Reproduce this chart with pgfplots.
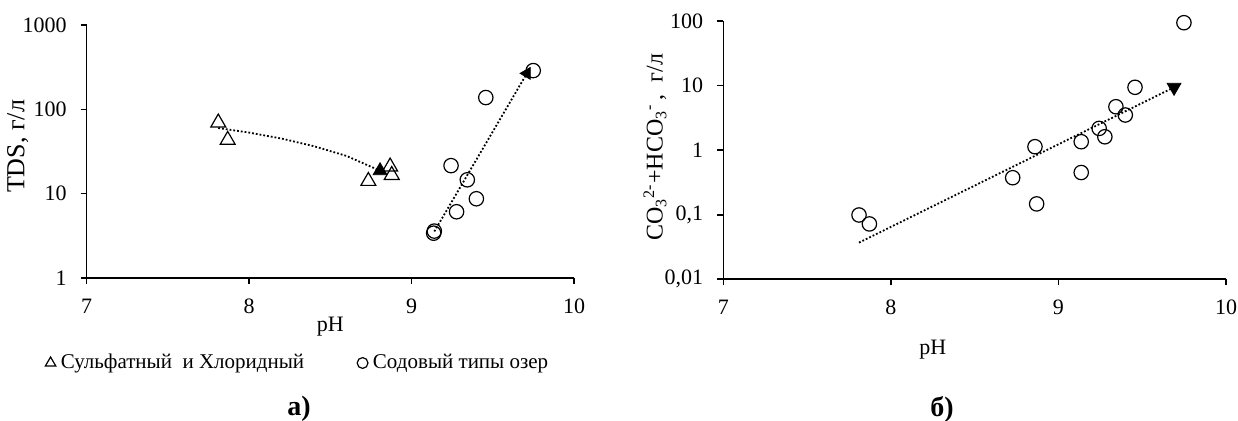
\documentclass[border=0pt]{standalone}
\usepackage{fontspec}
\setmainfont{Liberation Serif}
\usepackage{pgfplots}
\pgfplotsset{compat=1.18}
\begin{document}
\begin{tikzpicture}[font=\fontsize{11}{13}\selectfont]
\path[use as bounding box] (0,0) rectangle (619pt,210.5pt);
% ---------------- left panel ----------------
\begin{axis}[
  scale only axis,
  ymode=log,
  xmin=7, xmax=10,
  xtick={7,8,9,10},
  axis lines=left,
  axis line style={-, line width=0.8pt},
  tick style={line width=0.8pt, black},
  tick align=outside,
  major tick length=3pt,
  yminorticks=false,
  /pgf/number format/assume math mode=true,
  xticklabel style={yshift=-4pt},
  yticklabel style={xshift=-3.5pt},
  clip=false,
  at={(43.35pt,71.5pt)}, anchor=south west,
  width=243.65pt, height=126.5pt,
  ymin=1, ymax=1000,
  ytick={1,10,100,1000}, yticklabels={1,10,100,1000},
  xlabel={pH},
  xlabel style={at={(axis description cs:0.5,-0.194)}, anchor=center},
  ylabel={TDS, г/л},
  ylabel style={at={(axis description cs:-0.1416,0.52)}, anchor=center, font=\fontsize{13}{15}\selectfont},
  legend columns=2,
  legend style={at={(axis description cs:-0.0856,-0.336)}, anchor=west, draw=none, fill=none,
    inner sep=0pt, nodes={inner sep=1.5pt}, font=\fontsize{10.5}{12.5}\selectfont,
    /tikz/every odd column/.append style={column sep=1pt},
    /tikz/every even column/.append style={column sep=25pt}},
]
\addplot[only marks, mark=triangle, mark size=4.3pt, mark options={black, line width=0.6pt},
  legend image code/.code={\draw[black, line width=0.5pt, mark=triangle, mark size=3pt] plot coordinates {(0cm,0cm)};}]
  coordinates {(7.81,69.5) (7.868,43.3) (8.734,14.1) (8.868,20.9) (8.878,16.6)};
\addlegendentry{Сульфатный\ \ и Хлоридный}
\addplot[only marks, mark=o, mark size=3.6pt, mark options={black, line width=0.6pt},
  legend image code/.code={\draw[black, line width=0.6pt, mark=o, mark size=2.7pt] plot coordinates {(0cm,0cm)};}]
  coordinates {(9.136,3.4) (9.14,3.6) (9.243,21.5) (9.277,6.1) (9.343,14.6) (9.399,8.7) (9.457,138) (9.749,288)};
\addlegendentry{Содовый типы озер}
% trend lines
\addplot[black, densely dotted, line width=0.9pt, forget plot] coordinates {(7.81,60) (8.0,53) (8.2,45) (8.4,36.5) (8.6,28) (8.806,18.7)};
\addplot[black, densely dotted, line width=0.9pt, forget plot] coordinates {(9.14,3.56) (9.71,267)};
% arrow heads
\addplot[only marks, forget plot, mark=triangle*, mark size=4pt, mark options={black, fill=black}]
  coordinates {(8.806,18.7)};
\addplot[only marks, forget plot, mark=triangle*, mark size=3.4pt, mark options={black, fill=black, rotate=90}]
  coordinates {(9.71,267)};
\end{axis}
% ---------------- right panel ----------------
\begin{axis}[
  scale only axis,
  ymode=log,
  xmin=7, xmax=10,
  xtick={7,8,9,10},
  axis lines=left,
  axis line style={-, line width=0.8pt},
  tick style={line width=0.8pt, black},
  tick align=outside,
  major tick length=3pt,
  yminorticks=false,
  /pgf/number format/assume math mode=true,
  xticklabel style={yshift=-4pt},
  yticklabel style={xshift=-3.5pt},
  clip=false,
  at={(361.65pt,70.85pt)}, anchor=south west,
  width=251.35pt, height=129.15pt,
  ymin=0.01, ymax=100,
  ytick={0.01,0.1,1,10,100}, yticklabels={{0,01},{0,1},1,10,100},
  xlabel={pH},
  xlabel style={at={(axis description cs:0.417,-0.274)}, anchor=center},
  ylabel={CO\textsubscript{3}\textsuperscript{2-}+HCO\textsubscript{3}\textsuperscript{-}\,,\ \ г/л},
  ylabel style={at={(axis description cs:-0.136,0.512)}, anchor=center, font=\fontsize{12}{14}\selectfont},
]
\addplot[only marks, mark=o, mark size=3.6pt, mark options={black, line width=0.6pt}]
  coordinates {(7.81,0.099) (7.872,0.072) (8.727,0.374) (8.86,1.13) (8.87,0.147)
    (9.136,1.35) (9.136,0.45) (9.243,2.17) (9.277,1.61) (9.343,4.7) (9.399,3.5)
    (9.457,9.4) (9.749,94)};
\addplot[black, densely dotted, line width=0.9pt, forget plot] coordinates {(7.81,0.037) (9.69,9.4)};
\addplot[only marks, forget plot, mark=triangle*, mark size=4pt, mark options={black, fill=black, rotate=180}]
  coordinates {(9.69,9.4)};
\end{axis}
\node[font=\fontsize{14}{16}\selectfont\bfseries] at (149.5pt,6pt) {а)};
\node[font=\fontsize{14}{16}\selectfont\bfseries] at (471pt,6pt) {б)};
\end{tikzpicture}
\end{document}
